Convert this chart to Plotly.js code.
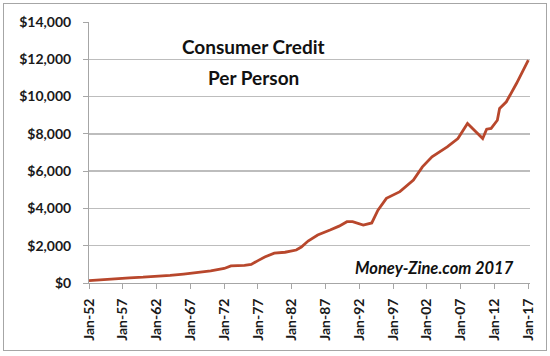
<!DOCTYPE html>
<html>
<head>
<meta charset="utf-8">
<script src="https://cdn.plot.ly/plotly-3.0.1.min.js"></script>
<style>
html,body{margin:0;padding:0;background:#fff;}
#wrap{position:relative;width:550px;height:356px;}
#chart{width:550px;height:356px;}
#frame{position:absolute;left:3px;top:3px;width:544px;height:348px;border:1px solid #a6a6a6;pointer-events:none;box-sizing:border-box;}
</style>
</head>
<body>
<div id="wrap"><div id="chart"></div><div id="frame"></div></div>
<script>
const dates = ["1952-01-01","1955-01-01","1958-01-01","1960-01-01","1962-01-01","1964-01-01","1966-01-01","1968-01-01","1970-01-01",
"1972-01-01","1973-01-01","1975-01-01","1976-01-01","1977-01-01","1978-01-01","1979-06-01","1981-01-01","1982-09-01","1983-06-01",
"1984-06-01","1985-11-01","1987-09-01","1989-01-01","1990-03-01","1991-01-01","1992-08-01","1993-11-01","1994-10-01","1996-01-01",
"1998-01-01","2000-01-01","2001-05-01","2002-10-01","2005-01-01","2006-08-01","2008-01-01","2009-05-01","2010-04-01","2010-11-01",
"2011-07-01","2012-06-01","2012-10-01","2013-10-01","2015-04-01","2017-01-01"];
const creditPerPerson = [125,210,280,310,340,410,480,560,650,
780,920,950,1000,1200,1400,1600,1650,1770,1930,
2250,2575,2840,3050,3290,3290,3110,3220,3910,4540,
4900,5520,6230,6770,7300,7750,8560,8110,7750,8250,
8290,8730,9360,9720,10700,11950];
const yTicks = [0,2000,4000,6000,8000,10000,12000,14000];
const yTickText = ["$0","$2,000","$4,000","$6,000","$8,000","$10,000","$12,000","$14,000"];
const titleLines = ["Consumer Credit","Per Person"];
const sourceText = "Money-Zine.com 2017";

const trace = {
  x: dates, y: creditPerPerson, type: "scatter", mode: "lines",
  line: {color: "#b8472c", width: 2.8},
  hoverinfo: "skip"
};
const titleFont = {family: "Lato", size: 19, color: "#111", weight: "bold"};
const layout = {
  width: 550, height: 356,
  margin: {l: 89, r: 20, t: 22, b: 73},
  paper_bgcolor: "#fff", plot_bgcolor: "#fff",
  showlegend: false,
  xaxis: {
    type: "date",
    range: ["1952-01-01","2017-04-01"],
    tick0: "1952-01-01", dtick: "M60", tickformat: "%b-%y",
    tickangle: -90,
    ticks: "outside", ticklen: 5, tickcolor: "#a6a6a6", tickwidth: 1,
    ticklabelstandoff: 4,
    showline: true, linecolor: "#a6a6a6", linewidth: 1,
    showgrid: false, zeroline: false,
    tickfont: {family: "Lato", size: 14, color: "#1a1a1a", weight: "bold"}
  },
  yaxis: {
    range: [0, 14000],
    tickvals: yTicks, ticktext: yTickText,
    ticks: "outside", ticklen: 5, tickcolor: "#a6a6a6", tickwidth: 1,
    ticklabelstandoff: 9,
    showline: true, linecolor: "#a6a6a6", linewidth: 1,
    showgrid: true, gridcolor: "#bdbdbd", gridwidth: 1.5,
    zeroline: false,
    tickfont: {family: "Lato", size: 14, color: "#1a1a1a", weight: "bold"}
  },
  annotations: [
    {xref: "paper", yref: "paper", x: 0.372, y: 0.908, text: titleLines[0],
     showarrow: false, xanchor: "center", yanchor: "middle", font: titleFont},
    {xref: "paper", yref: "paper", x: 0.372, y: 0.789, text: titleLines[1],
     showarrow: false, xanchor: "center", yanchor: "middle", font: titleFont},
    {xref: "paper", yref: "paper", x: 0.968, y: 0.058, text: "<i>" + sourceText + "</i>",
     showarrow: false, xanchor: "right", yanchor: "middle",
     font: {family: "Lato", size: 16.5, color: "#111", weight: "bold"}}
  ]
};
Plotly.newPlot("chart", [trace], layout, {staticPlot: true, displayModeBar: false});
</script>
</body>
</html>
